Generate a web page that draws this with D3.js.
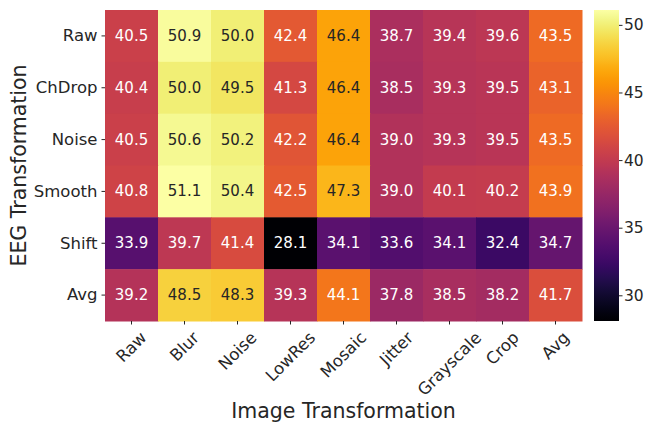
<!DOCTYPE html>
<html><head><meta charset="utf-8">
<script src="https://cdn.jsdelivr.net/npm/d3@7"></script>
<style>body{margin:0;background:#fff}text{font-family:"DejaVu Sans",sans-serif}</style>
</head><body><svg id="c" width="645" height="424"></svg>
<script>
const imageTransforms = ["Raw","Blur","Noise","LowRes","Mosaic","Jitter","Grayscale","Crop","Avg"];
const eegTransforms = ["Raw","ChDrop","Noise","Smooth","Shift","Avg"];
const values = [
  [40.5,50.9,50.0,42.4,46.4,38.7,39.4,39.6,43.5],
  [40.4,50.0,49.5,41.3,46.4,38.5,39.3,39.5,43.1],
  [40.5,50.6,50.2,42.2,46.4,39.0,39.3,39.5,43.5],
  [40.8,51.1,50.4,42.5,47.3,39.0,40.1,40.2,43.9],
  [33.9,39.7,41.4,28.1,34.1,33.6,34.1,32.4,34.7],
  [39.2,48.5,48.3,39.3,44.1,37.8,38.5,38.2,41.7]
];
const cbarTicks = [30,35,40,45,50];
const vmin = 28.1, vmax = 51.1;

const svg = d3.select("#c");
const L=105,R=582,T=10,B=321;
const TICKFS=16.5;
const x = d3.scaleBand().domain(imageTransforms).range([L,R]);
const y = d3.scaleBand().domain(eegTransforms).range([T,B]);
const color = d3.scaleSequential(d3.interpolateInferno).domain([vmin,vmax]);

function lum(c){
  const r=d3.rgb(c);
  const f=v=>{v/=255;return v<=0.03928?v/12.92:Math.pow((v+0.055)/1.055,2.4);};
  return 0.2126*f(r.r)+0.7152*f(r.g)+0.0722*f(r.b);
}
const cells=[];
values.forEach((row,i)=>row.forEach((v,j)=>cells.push({r:eegTransforms[i],c:imageTransforms[j],v})));
const g=svg.append("g");
g.selectAll("rect").data(cells).join("rect")
  .attr("x",d=>x(d.c)).attr("y",d=>y(d.r))
  .attr("width",x.bandwidth()+0.5).attr("height",y.bandwidth()+0.5)
  .attr("fill",d=>color(d.v));
g.selectAll("text").data(cells).join("text")
  .attr("x",d=>x(d.c)+x.bandwidth()/2).attr("y",d=>y(d.r)+y.bandwidth()/2)
  .attr("text-anchor","middle").attr("dominant-baseline","central")
  .attr("font-size","15px")
  .attr("fill",d=>lum(color(d.v))>0.408?"#262626":"#ffffff")
  .text(d=>d.v.toFixed(1));

// y axis
const ya=svg.append("g").attr("transform",`translate(${L},0)`)
  .call(d3.axisLeft(y).tickSize(3.5).tickPadding(4));
ya.select(".domain").remove();
ya.selectAll("text").attr("font-size",TICKFS+"px").attr("fill","#262626").attr("font-family","DejaVu Sans");
ya.selectAll("line").attr("stroke","#262626");
// x axis (labels rotated about their centre, like matplotlib rotation=45, ha=center)
const xa=svg.append("g").attr("transform",`translate(0,${B})`)
  .call(d3.axisBottom(x).tickSize(3.5).tickPadding(3.5));
xa.select(".domain").remove();
xa.selectAll("line").attr("stroke","#262626");
xa.selectAll(".tick text").each(function(){
  const t=d3.select(this);
  t.attr("font-size",TICKFS+"px").attr("fill","#262626").attr("font-family","DejaVu Sans")
   .attr("text-anchor","middle").attr("dominant-baseline","central").attr("dy",null);
  const w=this.getComputedTextLength();
  const h=TICKFS*1.17;
  const half=(w+h)*Math.SQRT1_2/2;
  const cyy=3.5+3.5+half;
  t.attr("y",cyy).attr("transform",`rotate(-45,0,${cyy})`);
});

svg.append("text").attr("x",(L+R)/2).attr("y",418).attr("text-anchor","middle")
  .attr("font-size","20.5px").attr("fill","#262626").text("Image Transformation");
svg.append("text").attr("transform",`translate(26,${(T+B)/2}) rotate(-90)`).attr("text-anchor","middle")
  .attr("font-size","20.5px").attr("fill","#262626").text("EEG Transformation");

// colorbar
const cbX=594,cbW=25;
const cy=d3.scaleLinear().domain([vmin,vmax]).range([B,T]);
const defs=svg.append("defs");
const grad=defs.append("linearGradient").attr("id","gr").attr("x1",0).attr("y1",1).attr("x2",0).attr("y2",0);
d3.range(0,1.0001,0.02).forEach(t=>grad.append("stop").attr("offset",t).attr("stop-color",d3.interpolateInferno(t)));
svg.append("rect").attr("x",cbX).attr("y",T).attr("width",cbW).attr("height",B-T).attr("fill","url(#gr)");
const ca=svg.append("g").attr("transform",`translate(${cbX+cbW},0)`)
  .call(d3.axisRight(cy).tickValues(cbarTicks).tickSize(3.5).tickPadding(1.5));
ca.select(".domain").remove();
ca.selectAll("line").attr("stroke","#262626");
ca.selectAll("text").attr("font-size","15.5px").attr("fill","#262626").attr("font-family","DejaVu Sans");
</script></body></html>
